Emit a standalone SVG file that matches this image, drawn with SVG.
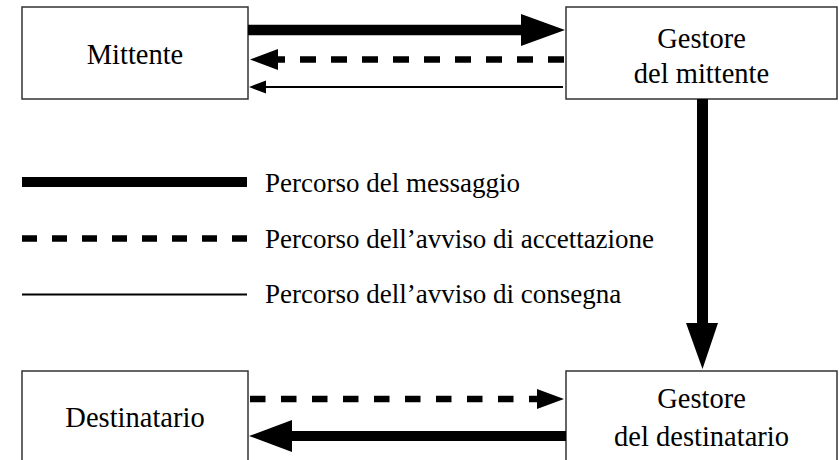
<svg xmlns="http://www.w3.org/2000/svg" width="839" height="460" viewBox="0 0 839 460">
<style>
.box{fill:#fff;stroke:#333;stroke-width:1.5}
.lbl{font-family:"Liberation Serif","Times New Roman",serif;font-size:28.5px;fill:#000;text-anchor:middle}
.leg{font-family:"Liberation Serif","Times New Roman",serif;font-size:27px;fill:#000}
.thick{stroke:#000;stroke-width:10.5;fill:none}
.dash{stroke:#000;stroke-width:6.5;fill:none;stroke-dasharray:16 15}
.thin{stroke:#000;stroke-width:2;fill:none}
.head{fill:#000}
</style>
<rect width="839" height="460" fill="#fff"/>
<g id="mittente">
<rect class="box" x="22" y="7" width="226" height="92"/>
<text class="lbl" x="135" y="63.5">Mittente</text>
</g>
<g id="gestore-mittente">
<rect class="box" x="566" y="7" width="271" height="92"/>
<text class="lbl" x="701.5" y="47.5">Gestore</text>
<text class="lbl" x="701.5" y="83">del mittente</text>
</g>
<g id="destinatario">
<rect class="box" x="22" y="371" width="226" height="100"/>
<text class="lbl" x="135" y="427">Destinatario</text>
</g>
<g id="gestore-destinatario">
<rect class="box" x="566" y="371" width="271" height="100"/>
<text class="lbl" x="701.5" y="408">Gestore</text>
<text class="lbl" x="701.5" y="446">del destinatario</text>
</g>
<g id="connectors">
<line class="thick" x1="248" y1="30" x2="523" y2="30"/>
<polygon class="head" points="521,14 565,30 521,46"/>
<line class="dash" x1="564" y1="59.5" x2="270" y2="59.5"/>
<polygon class="head" points="250,59.5 278,49 278,70"/>
<line class="thin" x1="563" y1="87" x2="264" y2="87"/>
<polygon class="head" points="249,87 266,80.5 266,93.5"/>
<line class="thick" x1="702.5" y1="99" x2="702.5" y2="325" style="stroke-width:11"/>
<polygon class="head" points="686,323 718,323 702.5,369"/>
<line class="dash" x1="250" y1="399" x2="545" y2="399" style="stroke-dasharray:15.5 15.5"/>
<polygon class="head" points="564,399 537,389 537,409"/>
<line class="thick" x1="566" y1="436" x2="290" y2="436" style="stroke-width:10"/>
<polygon class="head" points="249,436 292,420 292,452"/>
</g>
<g id="legend">
<line class="thick" x1="22" y1="182" x2="247" y2="182" style="stroke-width:10"/>
<text class="leg" x="265" y="192">Percorso del messaggio</text>
<line class="dash" x1="22" y1="238.5" x2="247" y2="238.5" style="stroke-dasharray:15 15"/>
<text class="leg" x="265" y="247.5">Percorso dell’avviso di accettazione</text>
<line class="thin" x1="22" y1="294.5" x2="247" y2="294.5"/>
<text class="leg" x="265" y="302.5">Percorso dell’avviso di consegna</text>
</g>
</svg>
